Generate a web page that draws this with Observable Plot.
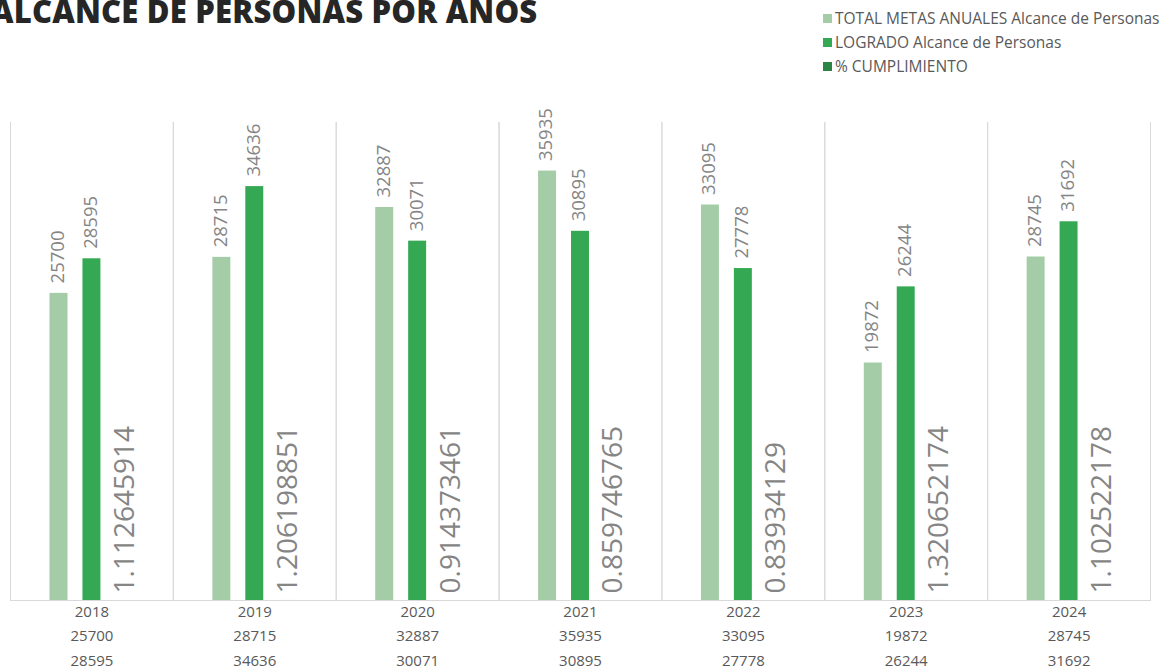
<!DOCTYPE html>
<html>
<head>
<meta charset="utf-8">
<script src="https://cdn.jsdelivr.net/npm/d3@7"></script>
<script src="https://cdn.jsdelivr.net/npm/@observablehq/plot@0.6"></script>
<style>
  html, body { margin: 0; padding: 0; background: #fff; }
  #wrap { position: relative; width: 1161px; height: 671px; overflow: hidden; font-family: "Open Sans", sans-serif; }
  #title { position: absolute; left: -9px; top: -10px; font-size: 31px; font-weight: 800; color: #262626; white-space: nowrap; letter-spacing: 0.2px; }
  #legend { position: absolute; left: 823px; top: 6px; font-size: 15.5px; color: #595959; white-space: nowrap; }
  #legend .row { height: 24px; display: flex; align-items: center; }
  #legend .sw { width: 9px; height: 9px; margin-right: 3px; display: inline-block; }
  #chart { position: absolute; left: 0; top: 0; }
</style>
</head>
<body>
<div id="wrap">
  <div id="chart"></div>
  <div id="title">ALCANCE DE PERSONAS POR AÑOS</div>
  <div id="legend"></div>
</div>
<script>
const years = ["2018", "2019", "2020", "2021", "2022", "2023", "2024"];
const metas = [25700, 28715, 32887, 35935, 33095, 19872, 28745];
const logrado = [28595, 34636, 30071, 30895, 27778, 26244, 31692];
const cumplimiento = [1.112645914, 1.206198851, 0.914373461, 0.859746765, 0.83934129, 1.320652174, 1.102522178];
const series = ["TOTAL METAS ANUALES Alcance de Personas", "LOGRADO Alcance de Personas", "% CUMPLIMIENTO"];
const colors = ["#a3cca7", "#34a853", "#2b8344"];

const data = years.flatMap((y, i) => [
  {year: y, serie: series[0], value: metas[i]},
  {year: y, serie: series[1], value: logrado[i]},
  {year: y, serie: series[2], value: cumplimiento[i]}
]);
const main = data.filter(d => d.serie !== series[2]);
const pct = data.filter(d => d.serie === series[2]);

const chart = Plot.plot({
  width: 1161,
  height: 671,
  marginTop: 122,
  marginBottom: 71,
  marginLeft: 10,
  marginRight: 11,
  style: {fontFamily: "Open Sans, sans-serif", background: "transparent"},
  fx: {domain: years, padding: 0, label: null, round: false, axis: null},
  x: {domain: series, paddingInner: 0.4545, paddingOuter: 1.2, round: false, axis: null},
  y: {domain: [0, 40000], axis: null},
  color: {domain: series, range: colors},
  marks: [
    Plot.frame({anchor: "left", stroke: "#d9d9d9", strokeOpacity: 1}),
    Plot.frame({anchor: "right", stroke: "#d9d9d9", strokeOpacity: 1}),
    Plot.ruleY([0], {stroke: "#d9d9d9"}),
    Plot.barY(data, {fx: "year", x: "serie", y: "value", fill: "serie"}),
    Plot.text(main, {fx: "year", x: "serie", y: "value", text: d => String(d.value), rotate: -90, textAnchor: "start", dy: -10, dx: -1, fontSize: 18.5, fill: "#858585"}),
    Plot.text(pct, {fx: "year", x: "serie", y: "value", text: d => String(d.value), rotate: -90, textAnchor: "start", dy: -7, fontSize: 28, fill: "#858585"}),
    Plot.axisFx({
      anchor: "bottom",
      tickSize: 0,
      tickPadding: -1,
      lineAnchor: "top",
      lineHeight: 1.63,
      fontSize: 15,
      fill: "#595959",
      label: null,
      tickFormat: y => {
        const i = years.indexOf(y);
        return `${y}\n${metas[i]}\n${logrado[i]}`;
      }
    })
  ]
});
document.getElementById("chart").appendChild(chart);

const legend = document.getElementById("legend");
series.forEach((s, i) => {
  const row = document.createElement("div");
  row.className = "row";
  const sw = document.createElement("span");
  sw.className = "sw";
  sw.style.background = colors[i];
  const t = document.createElement("span");
  t.textContent = s;
  row.appendChild(sw);
  row.appendChild(t);
  legend.appendChild(row);
});
</script>
</body>
</html>
